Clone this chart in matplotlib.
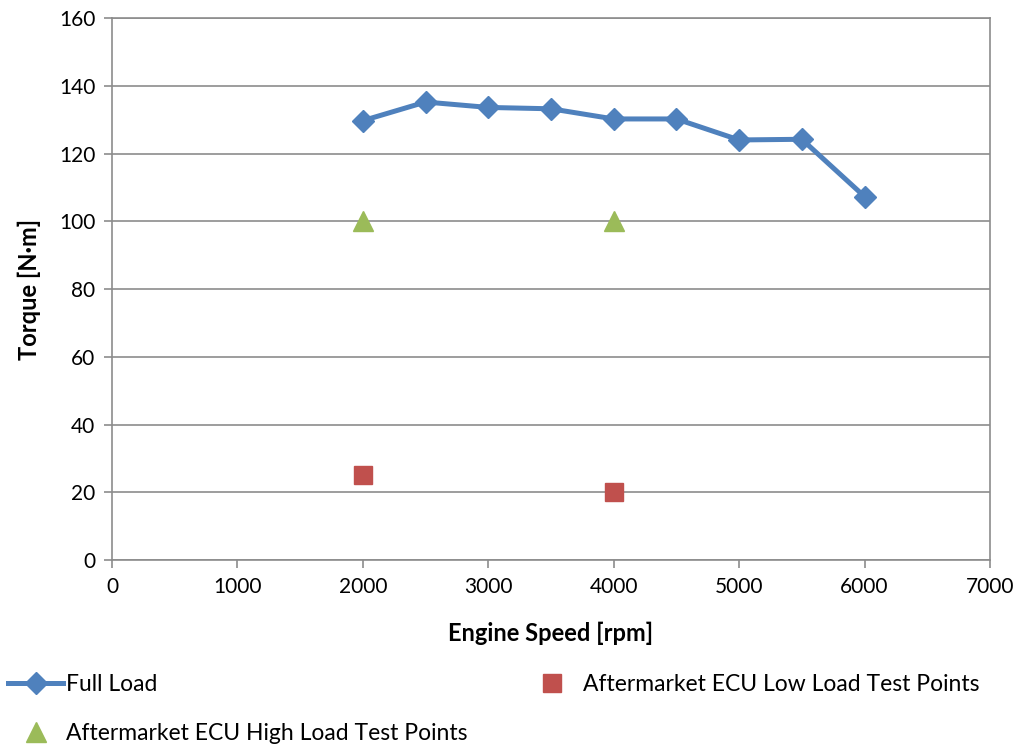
import matplotlib
matplotlib.use("Agg")
import matplotlib.pyplot as plt

plt.rcParams['font.family'] = ['Lato', 'DejaVu Sans']

# engine speed [rpm] and torque [N·m]
full_rpm = [2000, 2500, 3000, 3500, 4000, 4500, 5000, 5500, 6000]
full_torque = [129.7, 135.2, 133.6, 133.2, 130.2, 130.2, 124.0, 124.2, 107.3]

low_rpm = [2000, 4000]
low_torque = [25, 20]

high_rpm = [2000, 4000]
high_torque = [100, 100]

BLUE = '#4F81BD'
RED = '#C0504D'
GREEN = '#9BBB59'
GRID = '#8C8C8C'

fig = plt.figure(figsize=(10.23, 7.47), dpi=100)
ax = fig.add_axes([0.1095, 0.2503, 0.8582, 0.7256])

h_full, = ax.plot(full_rpm, full_torque, color=BLUE, lw=3.6, marker='D',
                  markersize=11, label='Full Load', zorder=3)
h_low, = ax.plot(low_rpm, low_torque, ls='none', marker='s', color=RED,
                 markersize=13, label='Aftermarket ECU Low Load Test Points', zorder=3)
h_high, = ax.plot(high_rpm, high_torque, ls='none', marker='^', color=GREEN,
                  markersize=15, label='Aftermarket ECU High Load Test Points', zorder=3)

ax.set_xlim(0, 7000)
ax.set_ylim(0, 160)
ax.set_xticks(range(0, 7001, 1000))
ax.set_yticks(range(0, 161, 20))
ax.grid(axis='y', color=GRID, lw=1.2)
ax.set_axisbelow(True)
for s in ax.spines.values():
    s.set_color(GRID)
    s.set_linewidth(1.2)
ax.tick_params(direction='out', length=6, width=1.2, color=GRID,
               labelsize=15, pad=6)

ax.set_xlabel('Engine Speed [rpm]', fontsize=17, fontweight='bold', labelpad=18)
ax.set_ylabel('Torque [N·m]', fontsize=17, fontweight='bold', labelpad=13)

fig.legend([h_full, h_high, h_low],
           ['Full Load', 'Aftermarket ECU High Load Test Points',
            'Aftermarket ECU Low Load Test Points'],
           ncol=2, loc='lower left', bbox_to_anchor=(-0.012, -0.023),
           frameon=False, fontsize=16.5, columnspacing=2.5,
           handlelength=2.4, handletextpad=0.12, labelspacing=1.2)

fig.savefig('out.png', dpi=100, facecolor='white')
